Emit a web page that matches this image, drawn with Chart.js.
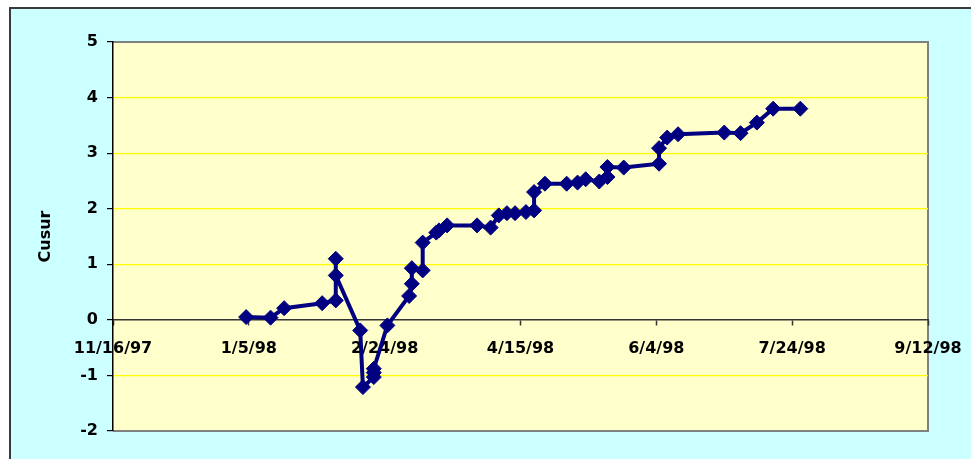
<!DOCTYPE html>
<html>
<head>
<meta charset="utf-8">
<script src="https://cdn.jsdelivr.net/npm/chart.js@4.4.1/dist/chart.umd.min.js"></script>
<style>
  html, body { margin: 0; padding: 0; background: #ffffff; }
  canvas { display: block; }
</style>
</head>
<body>
<canvas id="cusum" width="971" height="459"></canvas>
<script>
// Observation dates (ISO) and the cumulative-sum value at each date
const dates = [
  '1998-01-04', '1998-01-13', '1998-01-18', '1998-02-01', '1998-02-06',
  '1998-02-06', '1998-02-06', '1998-02-15', '1998-02-16', '1998-02-20',
  '1998-02-20', '1998-02-20', '1998-02-25', '1998-03-05', '1998-03-06',
  '1998-03-06', '1998-03-10', '1998-03-10', '1998-03-15', '1998-03-16',
  '1998-03-19', '1998-03-30', '1998-04-04', '1998-04-07', '1998-04-10',
  '1998-04-13', '1998-04-17', '1998-04-20', '1998-04-20', '1998-04-24',
  '1998-05-02', '1998-05-06', '1998-05-09', '1998-05-14', '1998-05-17',
  '1998-05-17', '1998-05-23', '1998-06-05', '1998-06-05', '1998-06-08',
  '1998-06-12', '1998-06-29', '1998-07-05', '1998-07-11', '1998-07-17',
  '1998-07-27'
];
const cusum = [
  0.05, 0.04, 0.21, 0.30, 0.35,
  1.10, 0.80, -0.19, -1.21, -1.03,
  -0.95, -0.88, -0.10, 0.43, 0.65,
  0.93, 0.89, 1.39, 1.57, 1.61,
  1.70, 1.70, 1.66, 1.88, 1.92,
  1.92, 1.94, 1.97, 2.30, 2.45,
  2.45, 2.47, 2.53, 2.49, 2.57,
  2.75, 2.74, 2.81, 3.09, 3.28,
  3.34, 3.37, 3.36, 3.55, 3.80,
  3.80
];

// Axis ranges and tick spacing
const xStart = '1997-11-16';
const xEnd = '1998-09-12';
const xStepDays = 50;
const yMin = -2;
const yMax = 5;
const yStep = 1;
const yTitle = 'Cusur';

// Dates become spreadsheet-style day serials so the 50-day ticks fall on round numbers
const EPOCH = Date.UTC(1899, 11, 30);
function toSerial(iso) {
  const [y, m, d] = iso.split('-').map(Number);
  return Math.round((Date.UTC(y, m - 1, d) - EPOCH) / 86400000);
}
function serialLabel(v) {
  const dt = new Date(EPOCH + v * 86400000);
  return (dt.getUTCMonth() + 1) + '/' + dt.getUTCDate() + '/' +
    String(dt.getUTCFullYear() % 100).padStart(2, '0');
}

const points = dates.map((d, i) => ({ x: toSerial(d), y: cusum[i] }));

const labelFont = { family: 'DejaVu Sans', weight: 'bold', size: 16 };

// Paints the page frame and the plot-area fill behind everything else
const framePlugin = {
  id: 'frame',
  beforeDraw(chart) {
    const { ctx, chartArea: a, width, height } = chart;
    ctx.save();
    ctx.fillStyle = '#ffffff';
    ctx.fillRect(0, 0, width, height);
    ctx.fillStyle = '#CCFFFF';
    ctx.fillRect(10, 8, width - 10, height - 8);
    ctx.strokeStyle = '#3a3a3a';
    ctx.lineWidth = 2;
    ctx.beginPath();
    ctx.moveTo(10, height);
    ctx.lineTo(10, 8);
    ctx.lineTo(width, 8);
    ctx.stroke();
    ctx.fillStyle = '#FFFFCC';
    ctx.fillRect(a.left, a.top, a.right - a.left, a.bottom - a.top);
    ctx.strokeStyle = '#808080';
    ctx.lineWidth = 2;
    ctx.beginPath();
    ctx.moveTo(a.left, a.top);
    ctx.lineTo(a.right, a.top);
    ctx.lineTo(a.right, a.bottom);
    ctx.lineTo(a.left, a.bottom);
    ctx.stroke();
    ctx.restore();
  }
};

new Chart(document.getElementById('cusum'), {
  type: 'line',
  data: {
    datasets: [{
      data: points,
      borderColor: '#000080',
      backgroundColor: '#000080',
      borderWidth: 4,
      tension: 0,
      pointStyle: 'rectRot',
      pointRadius: 7.5,
      pointBorderWidth: 1,
      pointBorderColor: '#000080',
      pointBackgroundColor: '#000080',
      clip: false
    }]
  },
  options: {
    responsive: false,
    animation: false,
    devicePixelRatio: 1,
    layout: { padding: { top: 42, right: 43, bottom: 28, left: 0 } },
    plugins: { legend: { display: false }, tooltip: { enabled: false } },
    scales: {
      x: {
        type: 'linear',
        position: { y: 0 },
        min: toSerial(xStart),
        max: toSerial(xEnd),
        ticks: {
          stepSize: xStepDays,
          autoSkip: false,
          maxRotation: 0,
          padding: 14,
          color: '#000000',
          font: labelFont,
          callback: (v) => serialLabel(v)
        },
        grid: { drawOnChartArea: false, drawTicks: true, tickLength: 5, tickColor: '#333333', tickWidth: 1.5 },
        border: { display: true, color: '#333333', width: 1.5 },
        // end labels may overhang the plot edges, so they reserve no side space
        afterFit(scale) { scale.paddingLeft = 0; scale.paddingRight = 0; }
      },
      y: {
        min: yMin,
        max: yMax,
        ticks: { stepSize: yStep, padding: 9, color: '#000000', font: labelFont },
        grid: {
          color: (c) => {
            const v = c.tick ? c.tick.value : null;
            if (v === 0) return 'rgba(0,0,0,0)';
            if (v === yMin || v === yMax) return '#808080';
            return '#FFFF00';
          },
          lineWidth: 1.2,
          tickLength: 6,
          tickColor: '#000000'
        },
        border: { color: '#000000', width: 1.5 },
        title: {
          display: true,
          text: yTitle,
          color: '#000000',
          font: labelFont,
          padding: { top: 36, bottom: 0 }
        },
        afterFit(scale) { scale.width = 113; }
      }
    }
  },
  plugins: [framePlugin]
});
</script>
</body>
</html>
